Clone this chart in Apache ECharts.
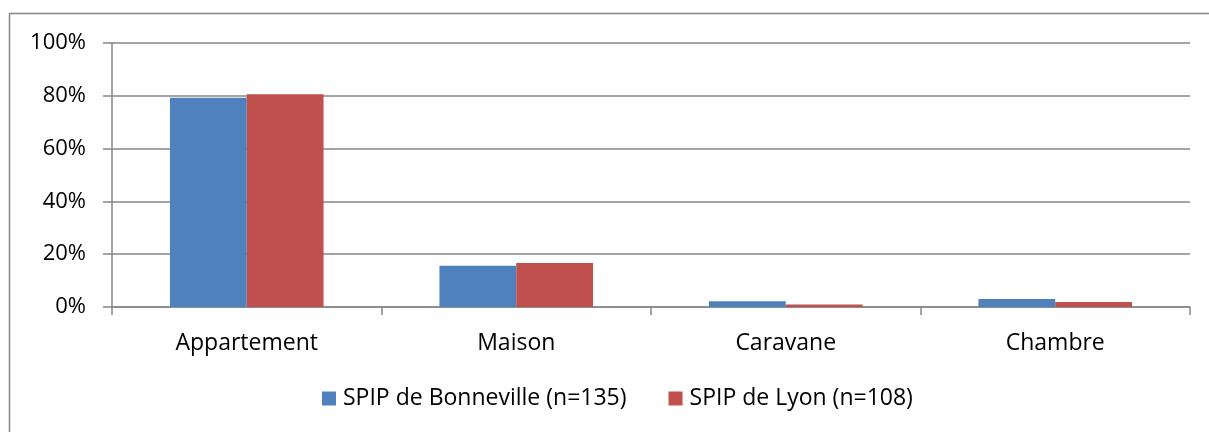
<!DOCTYPE html>
<html>
<head>
<meta charset="utf-8">
<script src="https://cdn.jsdelivr.net/npm/echarts@6/dist/echarts.min.js"></script>
<style>
html,body{margin:0;padding:0;background:#fff;}
#chart{width:1209px;height:432px;}
</style>
</head>
<body>
<div id="chart"></div>
<script>
const categories = ['Appartement', 'Maison', 'Caravane', 'Chambre'];
const seriesNames = ['SPIP de Bonneville (n=135)', 'SPIP de Lyon (n=108)'];
const bonneville = [79.3, 15.6, 2.2, 3.0];
const lyon = [80.6, 16.7, 0.9, 1.9];
const colors = ['#4F81BD', '#C0504D'];

const chart = echarts.init(document.getElementById('chart'));
const font = '"Open Sans", sans-serif';
chart.setOption({
  animation: false,
  backgroundColor: '#ffffff',
  graphic: [{
    type: 'rect',
    shape: {x: 9.5, y: 13.5, width: 1300, height: 500},
    style: {fill: 'none', stroke: '#868686', lineWidth: 1.5},
    silent: true
  }],
  grid: {left: 112, right: 19, top: 43, bottom: 125, containLabel: false},
  legend: {
    left: 317, top: 382,
    itemWidth: 14, itemHeight: 14, itemGap: 42,
    icon: 'rect',
    textStyle: {fontFamily: font, fontSize: 23, color: '#000', padding: [0, 0, 0, 2]},
    data: seriesNames
  },
  xAxis: {
    type: 'category',
    data: categories,
    axisLine: {lineStyle: {color: '#868686', width: 1.5}},
    axisTick: {show: true, length: 8, lineStyle: {color: '#868686', width: 1.5}},
    axisLabel: {fontFamily: font, fontSize: 23, color: '#000', margin: 25}
  },
  yAxis: {
    type: 'value',
    min: 0, max: 100, interval: 20,
    axisLine: {show: true, lineStyle: {color: '#868686', width: 1.5}},
    axisTick: {show: true, length: 9, lineStyle: {color: '#868686', width: 1.5}},
    splitLine: {lineStyle: {color: '#868686', width: 1.5}},
    axisLabel: {fontFamily: font, fontSize: 22, color: '#000', margin: 26, formatter: '{value}%'}
  },
  series: [
    {name: seriesNames[0], type: 'bar', data: bonneville, itemStyle: {color: colors[0]}, barGap: '0%', barCategoryGap: '43%'},
    {name: seriesNames[1], type: 'bar', data: lyon, itemStyle: {color: colors[1]}, barGap: '0%', barCategoryGap: '43%'}
  ]
});
</script>
</body>
</html>
